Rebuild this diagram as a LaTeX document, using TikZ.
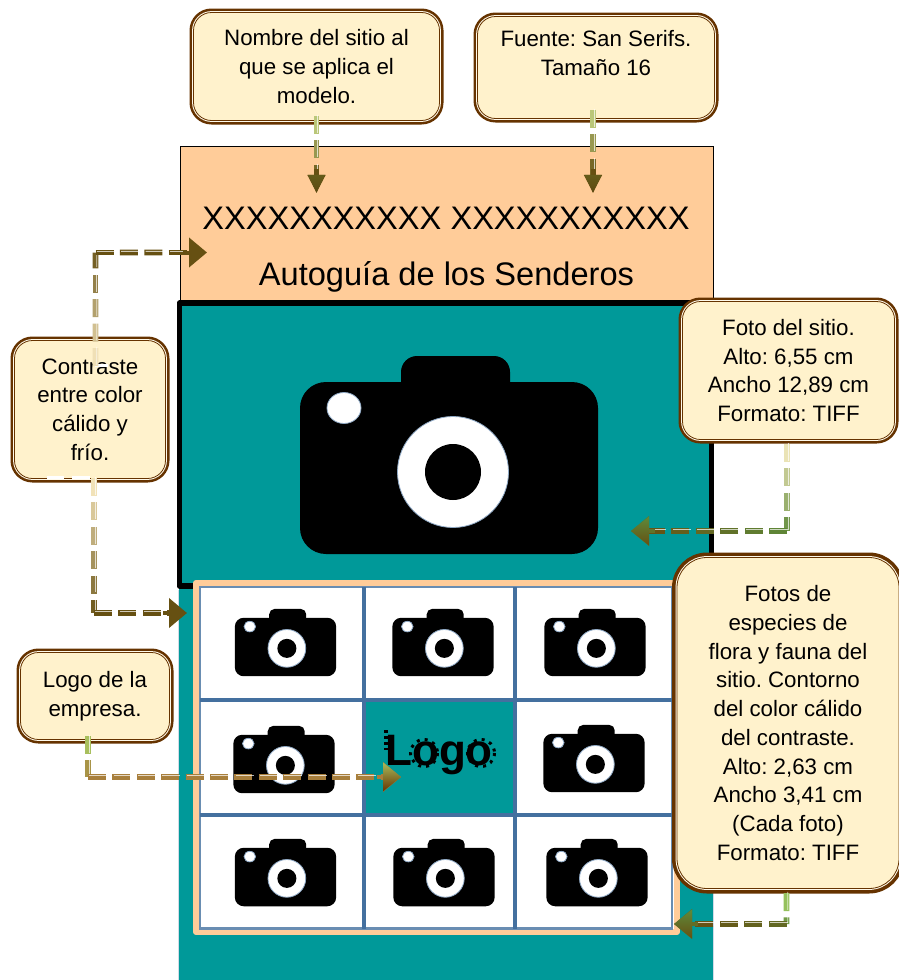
\documentclass[tikz,border=0pt]{standalone}
\usepackage{fontspec}
\setmainfont{Liberation Sans}
\usetikzlibrary{calc,arrows.meta}
\frenchspacing
\definecolor{peach}{HTML}{FFCC99}
\definecolor{tealp}{HTML}{009999}
\definecolor{cream}{HTML}{FFF2CC}
\definecolor{bord}{HTML}{663300}
\definecolor{gridb}{HTML}{44709F}
\definecolor{gA}{HTML}{FFF0C8}
\definecolor{gB}{HTML}{A8D468}
\definecolor{gC}{HTML}{5E8A3A}
\definecolor{gD}{HTML}{665012}
\definecolor{gold}{HTML}{A87F3C}
\tikzset{
  callout/.style={rectangle,rounded corners=18pt,fill=cream,draw=bord,line width=.8pt,
    preaction={draw=bord,line width=8pt},preaction={draw=cream!40!white,line width=2.8pt},
    align=center,inner sep=0pt,font=\fontsize{22.3}{28.7}\selectfont,text=black},
  calloutbig/.style={callout,rounded corners=30pt,preaction={draw=bord,line width=10pt},preaction={draw=cream!40!white,line width=2.8pt}},
  titletext/.style={anchor=base,inner sep=0pt,font=\fontsize{32.6}{36}\selectfont},
  gridline/.style={draw=gridb,line width=4.4pt},
  gridedge/.style={draw=gridb!80!white,line width=2.4pt},
  headA/.style={-{Triangle[length=18pt,width=17pt]}},
  headB/.style={-{Triangle[length=18pt,width=29pt]}},
}
% small or large camera: centre of the body, scale
\newcommand{\cameraicon}[3]{%
  \begin{scope}[shift={(#1,#2)},scale=#3]
    \fill[black,rounded corners=16pt*#3] (-48,-112) rectangle (61,-60);
    \fill[black,rounded corners=26pt*#3] (-149,86) rectangle (149,-86);
    \filldraw[fill=white,draw=gridb!60!white,line width=.8pt] (-105,-60) ellipse (17 and 15.5);
    \filldraw[fill=white,draw=gridb!60!white,line width=.8pt] (4,4) circle (55.5);
    \fill[black] (4,4) circle (28);
  \end{scope}}
% two-tone dashed stretch between two named points, colour running from #3 to #4
\newcommand{\dashrun}[4]{%
  \path let \p1=($(#2)-(#1)$),\n1={veclen(\x1,\y1)} in \pgfextra{\xdef\runlen{\n1}};
  \pgfmathsetmacro{\nseg}{max(1,ceil(\runlen/24.4))}
  \pgfmathtruncatemacro{\nsegi}{\nseg}
  \foreach \k in {1,...,\nsegi}{
    \pgfmathsetmacro{\ta}{(\k-1)*24.4/\runlen}
    \pgfmathsetmacro{\tb}{min(1,((\k-1)*24.4+18)/\runlen)}
    \pgfmathtruncatemacro{\pc}{100*(1-(\k-.5)/\nsegi)}
    \draw[color=#3!\pc!#4,line width=5.6pt] ($(#1)!\ta!(#2)$) -- ($(#1)!\tb!(#2)$);
    \draw[color=white,opacity=.7,line width=.9pt] ($(#1)!\ta!(#2)+(1.2pt,1.2pt)$) -- ($(#1)!\tb!(#2)+(1.2pt,1.2pt)$);
  }}
\begin{document}
\begin{tikzpicture}[x=1pt,y=-1pt]
\useasboundingbox (0,0) rectangle (899,980);
\fill[white] (0,0) rectangle (899,980);
% panels
\node[draw=black,line width=.7pt,fill=peach,minimum width=533pt,minimum height=156pt,inner sep=0pt,outer sep=0pt] (head) at (446.5,224) {};
\fill[tealp] (179,302) rectangle (713,980);
\draw[gridb!25!white,line width=.8pt] (178.5,590) -- (178.5,980) (713.5,590) -- (713.5,980);
\node[titletext] (t1) at (446,229) {XXXXXXXXXXX XXXXXXXXXXX};
\node[titletext] (t2) at (446.5,285) {Autoguía de los Senderos};
\draw[black,line width=5.5pt,line join=round] (179.5,303) rectangle (711.5,586);
% photo grid
\draw[fill=white,draw=peach,line width=6pt,line join=round] (196,583) rectangle (677,932);
\fill[tealp] (364,700) rectangle (515,815);
\draw[gridedge] (200,587) rectangle (672,928.5);
\draw[gridline] (364,587) -- (364,929) (515,587) -- (515,929) (200,700) -- (672,700) (200,815) -- (672,815);
% cameras
\cameraicon{449}{468}{1}
\cameraicon{285.5}{647}{.34}
\cameraicon{443}{647}{.34}
\cameraicon{595}{647}{.34}
\cameraicon{284}{764}{.34}
\cameraicon{594}{763}{.34}
\cameraicon{285.5}{877}{.34}
\cameraicon{444}{877}{.34}
\cameraicon{597}{877}{.34}
% logo
\node[inner sep=0pt,anchor=base,font=\fontsize{44}{48}\selectfont\bfseries] (logo) at (439,765) {Logo};
\draw[black,line width=3pt,dash pattern=on 3pt off 5pt] (424,753) circle (13.5) (481,753) circle (13.5);
\draw[black,line width=3.5pt,dash pattern=on 3pt off 3pt] (386,730) -- (386,750);
% callouts
\node[callout,minimum width=246pt,minimum height=108pt] (A) at (316.5,66.5) {Nombre del sitio al\\que se aplica el\\modelo.};
\node[callout,minimum width=237pt,minimum height=102pt] (B) at (596,67.5) {Fuente: San Serifs.\\Tamaño 16\\\mbox{}};
\node[callout,minimum width=151pt,minimum height=138pt] (C) at (90,409.5) {Contraste\\entre color\\cálido y\\frío.};
\node[callout,minimum width=149pt,minimum height=87pt] (D) at (95,696) {Logo de la\\empresa.};
\node[callout,minimum width=212pt,minimum height=138pt] (E) at (788.5,370.5) {Foto del sitio.\\Alto: 6,55 cm\\Ancho 12,89 cm\\Formato: TIFF};
\node[calloutbig,minimum width=222pt,minimum height=331pt] (F) at (788,723) {Fotos de\\especies de\\flora y fauna del\\sitio. Contorno\\del color cálido\\del contraste.\\Alto: 2,63 cm\\Ancho 3,41 cm\\(Cada foto)\\Formato: TIFF};
% connector points
\coordinate (a0) at ($(A.south)+(0,-5)$);
\coordinate (a1) at ($(a0)+(0,77)$);
\coordinate (a2) at ($(a1)+(0,-16)$);
\coordinate (b0) at ($(B.south)+(-3,-9)$);
\coordinate (b1) at ($(b0)+(0,83)$);
\coordinate (b2) at ($(b1)+(0,-16)$);
\coordinate (c0) at (95.5,366);
\coordinate (c1) at (95.5,252.5);
\coordinate (c2) at (207,252.5);
\coordinate (c2a) at ($(c2)+(-16,0)$);
\coordinate (c3) at (94,478);
\coordinate (c4) at (94,613);
\coordinate (c5) at (187,613);
\coordinate (c5a) at ($(c5)+(-16,0)$);
\coordinate (d0) at (88,736);
\coordinate (d1) at (88,777);
\coordinate (d2) at (401,777);
\coordinate (d2a) at ($(d2)+(-16,0)$);
\coordinate (e0) at (787,444);
\coordinate (e1) at (787,531);
\coordinate (e2) at (631,531);
\coordinate (e2a) at ($(e2)+(16,0)$);
\coordinate (f0) at (786.5,893);
\coordinate (f1) at (786.5,924);
\coordinate (f2) at (674,924);
\coordinate (f2a) at ($(f2)+(16,0)$);
% stray highlight dashes on the box of the left callout
\draw[white,line width=2.4pt] (47,477.5) -- (64,477.5) (72,477.5) -- (90,477.5) (95,365.5) -- (108,365.5);
% connectors
\dashrun{a0}{a2}{gA!40!gB}{gD}
\draw[headA,gD,line width=5pt] ($(a1)+(0,-24)$) -- (a1);
\shade[top color=gD!80!gC,bottom color=gD!90!black] ($(a1)+(-8.5,-18)$) -- (a1) -- ($(a1)+(8.5,-18)$) -- cycle;
\dashrun{b0}{b2}{gA!40!gB}{gD}
\draw[headA,gD,line width=5pt] ($(b1)+(0,-24)$) -- (b1);
\shade[top color=gD!80!gC,bottom color=gD!90!black] ($(b1)+(-8.5,-18)$) -- (b1) -- ($(b1)+(8.5,-18)$) -- cycle;
\dashrun{c0}{c1}{gA}{gD}
\dashrun{c1}{c2a}{gD}{gD}
\draw[headB,gD,line width=4pt] ($(c2)+(-24,0)$) -- (c2);
\dashrun{c3}{c4}{gA}{gD}
\dashrun{c4}{c5a}{gD}{gD}
\draw[headB,gD,line width=4pt] ($(c5)+(-24,0)$) -- (c5);
\dashrun{d0}{d1}{gB}{gold}
\dashrun{d1}{d2a}{gold}{gold}
\draw[headB,gold,line width=4pt] ($(d2)+(-24,0)$) -- (d2);
\shade[top color=gB!70!gold,middle color=gold!60!white,bottom color=bord] ($(d2)+(-18,-14.5)$) -- (d2) -- ($(d2)+(-18,14.5)$) -- cycle;
\dashrun{e0}{e1}{gA}{gC}
\dashrun{e1}{e2a}{gC}{gD}
\draw[headB,gC!60!gD,line width=4pt] ($(e2)+(24,0)$) -- (e2);
\shade[top color=gC,bottom color=gD] ($(e2)+(18,-14.5)$) -- (e2) -- ($(e2)+(18,14.5)$) -- cycle;
\dashrun{f0}{f1}{gB}{gC}
\dashrun{f1}{f2a}{gC!50!gD}{gD}
\draw[headB,gC!50!gD,line width=4pt] ($(f2)+(24,0)$) -- (f2);
\shade[top color=gC,bottom color=gD] ($(f2)+(18,-14.5)$) -- (f2) -- ($(f2)+(18,14.5)$) -- cycle;
\end{tikzpicture}
\end{document}
